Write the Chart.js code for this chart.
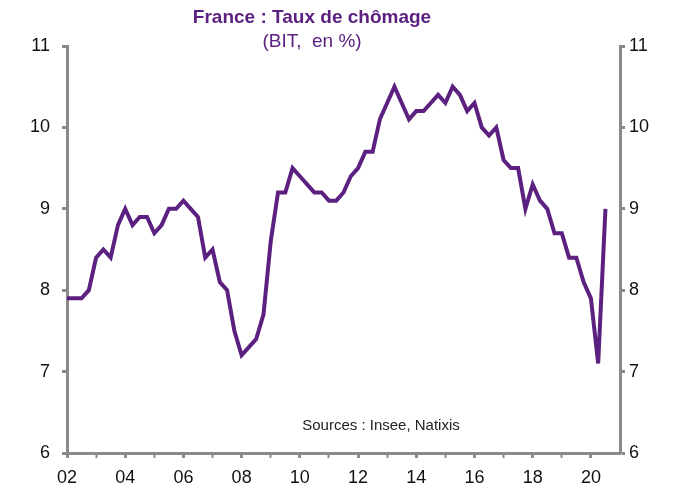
<!DOCTYPE html>
<html lang="fr">

<head>
    <meta charset="UTF-8">
    <title>France : Taux de chômage</title>
    <script src="https://cdn.jsdelivr.net/npm/chart.js@4.4.1/dist/chart.umd.min.js"></script>
    <style>
        html, body { margin: 0; padding: 0; background: #fff; }
        #wrap { width: 685px; height: 486px; }
    </style>
</head>

<body>
    <div id="wrap"><canvas id="chart"></canvas></div>

    <script>
        // Données trimestrielles, 2002T1 -> 2020T3 (taux de chômage BIT, en %)
        const startYear = 2002;
        const chomage = [
            7.9, 7.9, 7.9, 8.0,    // 2002
            8.4, 8.5, 8.4, 8.8,    // 2003
            9.0, 8.8, 8.9, 8.9,    // 2004
            8.7, 8.8, 9.0, 9.0,    // 2005
            9.1, 9.0, 8.9, 8.4,    // 2006
            8.5, 8.1, 8.0, 7.5,    // 2007
            7.2, 7.3, 7.4, 7.7,    // 2008
            8.6, 9.2, 9.2, 9.5,    // 2009
            9.4, 9.3, 9.2, 9.2,    // 2010
            9.1, 9.1, 9.2, 9.4,    // 2011
            9.5, 9.7, 9.7, 10.1,   // 2012
            10.3, 10.5, 10.3, 10.1, // 2013
            10.2, 10.2, 10.3, 10.4, // 2014
            10.3, 10.5, 10.4, 10.2, // 2015
            10.3, 10.0, 9.9, 10.0, // 2016
            9.6, 9.5, 9.5, 9.0,    // 2017
            9.3, 9.1, 9.0, 8.7,    // 2018
            8.7, 8.4, 8.4, 8.1,    // 2019
            7.9, 7.1, 9.0          // 2020
        ];
        const yTicks = [6, 7, 8, 9, 10, 11];
        const titre = 'France : Taux de chômage';
        const sousTitre = '(BIT,  en %)';
        const sources = 'Sources : Insee, Natixis';

        const points = chomage.map((v, i) => ({ x: startYear + i / 4, y: v }));

        const gris = '#8a8a8a';
        const violet = '#5c2180';
        const police = "'Liberation Sans Narrow', 'Arial Narrow', Arial, sans-serif";

        // Titre, sous-titre et sources dessinés sur le canvas
        const textes = {
            id: 'textes',
            afterDraw(chart) {
                const c = chart.ctx;
                c.save();
                c.textAlign = 'center';
                c.textBaseline = 'middle';
                c.fillStyle = violet;
                c.font = "bold 19px Arial, 'Liberation Sans', sans-serif";
                c.fillText(titre, 312, 18);
                c.font = "19px Arial, 'Liberation Sans', sans-serif";
                c.fillText(sousTitre, 312, 42);
                c.fillStyle = '#222';
                c.font = '15px ' + police;
                c.fillText(sources, 381, 426);
                c.restore();
            }
        };

        const ctx = document.getElementById('chart').getContext('2d');
        const chart = new Chart(ctx, {
            type: 'line',
            data: {
                datasets: [{
                    label: 'Taux de chômage',
                    data: points,
                    borderColor: violet,
                    borderWidth: 4,
                    pointRadius: 0,
                    tension: 0,
                    fill: false,
                    yAxisID: 'y'
                }]
            },
            options: {
                animation: false,
                responsive: true,
                maintainAspectRatio: false,
                layout: { padding: { top: 46, left: 0, right: 0, bottom: 0 } },
                plugins: {
                    legend: { display: false },
                    tooltip: { enabled: false }
                },
                scales: {
                    x: {
                        type: 'linear',
                        min: 2002,
                        max: 2021,
                        afterFit: (s) => { s.height = 33; },
                        afterBuildTicks: (s) => {
                            s.ticks = [];
                            for (let a = 2002; a <= 2020; a++) s.ticks.push({ value: a });
                        },
                        ticks: {
                            autoSkip: false,
                            maxRotation: 0,
                            padding: 9,
                            color: '#111',
                            font: { family: police, size: 18 },
                            callback: (v) => (v % 2 === 0 ? String(v).slice(2) : '')
                        },
                        grid: {
                            drawOnChartArea: false,
                            drawTicks: true,
                            tickLength: 5,
                            tickColor: gris,
                            tickWidth: (c) => (c.tick && c.tick.value % 2 === 0 ? 3 : 2)
                        },
                        border: { display: true, color: gris, width: 3 }
                    },
                    y: {
                        position: 'left',
                        min: 6,
                        max: 11,
                        afterFit: (s) => { s.width = 67; },
                        afterBuildTicks: (s) => { s.ticks = yTicks.map(v => ({ value: v })); },
                        ticks: {
                            padding: 12,
                            color: '#111',
                            font: { family: police, size: 18 }
                        },
                        grid: {
                            drawOnChartArea: false,
                            tickLength: 5,
                            tickColor: gris,
                            tickWidth: 3
                        },
                        border: { display: true, color: gris, width: 3 }
                    },
                    y2: {
                        position: 'right',
                        min: 6,
                        max: 11,
                        afterFit: (s) => { s.width = 65; },
                        afterBuildTicks: (s) => { s.ticks = yTicks.map(v => ({ value: v })); },
                        ticks: {
                            padding: 4,
                            color: '#111',
                            font: { family: police, size: 18 }
                        },
                        grid: {
                            drawOnChartArea: false,
                            tickLength: 5,
                            tickColor: gris,
                            tickWidth: 3
                        },
                        border: { display: true, color: gris, width: 3 }
                    }
                }
            },
            plugins: [textes]
        });
    </script>
</body>

</html>
